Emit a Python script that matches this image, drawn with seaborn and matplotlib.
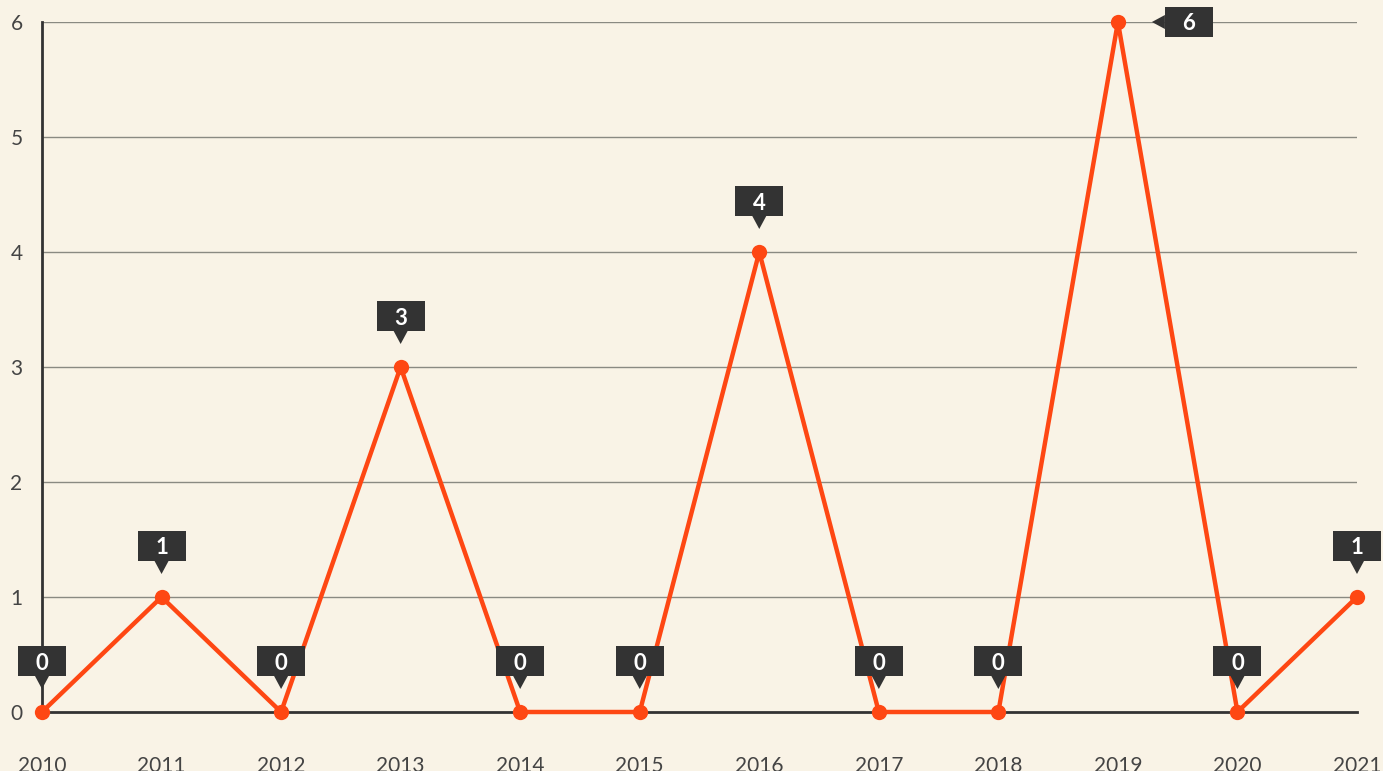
import matplotlib
matplotlib.use("Agg")
import matplotlib.pyplot as plt
import matplotlib.transforms as mtransforms
from matplotlib.patches import Rectangle, Polygon
import seaborn as sns
import pandas as pd

# data
years = [2010, 2011, 2012, 2013, 2014, 2015, 2016, 2017, 2018, 2019, 2020, 2021]
counts = [0, 1, 0, 3, 0, 0, 4, 0, 0, 6, 0, 1]
y_ticks = [0, 1, 2, 3, 4, 5, 6]

bg = "#f9f3e6"
line_color = "#fe4713"
box_color = "#333333"
text_color = "#444444"

sns.set_style("white")
plt.rcParams["font.family"] = ["Lato", "DejaVu Sans"]

df = pd.DataFrame({"year": years, "count": counts})

fig = plt.figure(figsize=(13.83, 7.71), dpi=100)
fig.patch.set_facecolor(bg)
ax = fig.add_axes([42 / 1383, 1 - 712 / 771, (1357 - 42) / 1383, (712 - 22) / 771])
ax.set_facecolor(bg)

# grid lines
for v in y_ticks[1:]:
    ax.axhline(v, color="#8a8a82", lw=1, zorder=1)

sns.lineplot(data=df, x="year", y="count", ax=ax, color=line_color, lw=3.2,
             marker="o", markersize=11, markeredgewidth=0, clip_on=False, zorder=5)

ax.set_xlim(years[0], years[-1])
ax.set_ylim(0, 6)
ax.set_xticks(years)
ax.set_xticklabels([str(y) for y in years])
ax.set_yticks(y_ticks)
ax.set_xlabel("")
ax.set_ylabel("")

for s in ["top", "right"]:
    ax.spines[s].set_visible(False)
for s in ["left", "bottom"]:
    ax.spines[s].set_color("#333333")
    ax.spines[s].set_linewidth(2)

ax.tick_params(axis="x", length=17, width=2, color="#333333", pad=15,
               labelsize=15, labelcolor=text_color)
ax.tick_params(axis="y", length=0, pad=14, labelsize=15, labelcolor=text_color)

# value labels: dark callout box with a pointer, sized in pixels
ident = mtransforms.IdentityTransform()
bw, bh = 48, 30
for x, y in zip(years, counts):
    px, py = ax.transData.transform((x, y))
    if y == max(counts):
        bx, by = px + 47, py - bh / 2
        tri = [(bx, py + 7), (bx, py - 7), (bx - 13, py)]
    else:
        bx, by = px - bw / 2, py + 36
        tri = [(px - 7, by), (px + 7, by), (px, by - 13)]
    ax.add_patch(Rectangle((bx, by), bw, bh, transform=ident, fc=box_color,
                           ec="none", clip_on=False, zorder=6))
    ax.add_patch(Polygon(tri, closed=True, transform=ident, fc=box_color,
                         ec="none", clip_on=False, zorder=6))
    ax.text(bx + bw / 2, by + bh / 2, str(y), transform=ident, ha="center",
            va="center_baseline", color="white", fontsize=16, fontweight="bold",
            zorder=7, clip_on=False)

fig.savefig("out.png", dpi=100, facecolor=bg)
